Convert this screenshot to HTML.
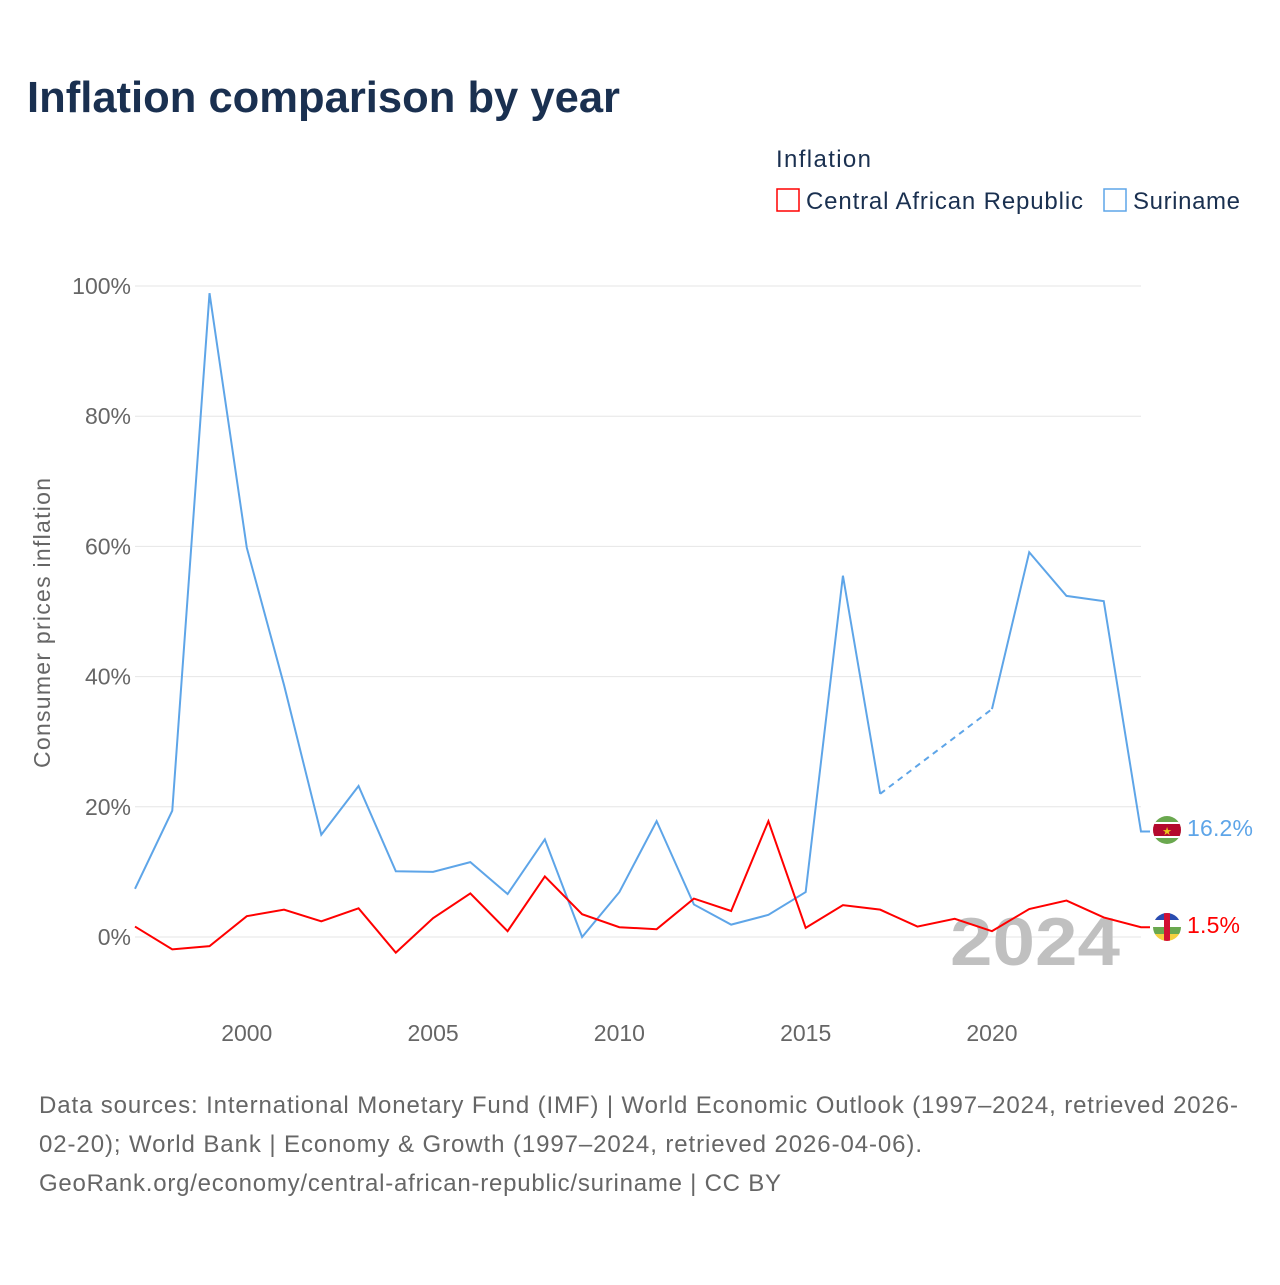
<!DOCTYPE html>
<html><head><meta charset="utf-8"><style>
body{margin:0;background:#fff;font-family:"Liberation Sans",sans-serif}
</style></head><body>
<svg width="1280" height="1280" xmlns="http://www.w3.org/2000/svg" font-family="Liberation Sans, sans-serif">
<text x="27" y="112" font-size="44" font-weight="bold" fill="#1a3050" textLength="593" lengthAdjust="spacingAndGlyphs">Inflation comparison by year</text>
<text x="776" y="167" font-size="24" fill="#1a3050" textLength="95">Inflation</text>
<g><rect x="777" y="189" width="22" height="22" fill="none" stroke="#f00" stroke-width="1.5"/><text x="806" y="209" font-size="24" fill="#1a3050" textLength="277">Central African Republic</text></g>
<g><rect x="1104" y="189" width="22" height="22" fill="none" stroke="#5ea5e8" stroke-width="1.5"/><text x="1133" y="209" font-size="24" fill="#1a3050" textLength="107">Suriname</text></g>
<g id="grid"></g>
<text transform="translate(50,623) rotate(-90)" text-anchor="middle" font-size="23" fill="#666" textLength="290">Consumer prices inflation</text>
<text x="950" y="965" font-size="68" font-weight="bold" fill="#c0c0c0" textLength="170" lengthAdjust="spacingAndGlyphs">2024</text>
<g id="series"></g>
<g>
<clipPath id="c1"><circle cx="1167" cy="830" r="14"/></clipPath>
<g clip-path="url(#c1)"><rect x="1150" y="815" width="34" height="30" fill="#6aa84f"/><rect x="1150" y="822" width="34" height="16" fill="#fff"/><rect x="1150" y="824" width="34" height="12" fill="#b40a2d"/><text x="1167" y="835" text-anchor="middle" font-size="11" fill="#ecc81d">★</text></g></g>
<g>
<clipPath id="c2"><circle cx="1167" cy="927" r="14"/></clipPath>
<g clip-path="url(#c2)"><rect x="1150" y="912" width="34" height="8" fill="#2a4cb0"/><rect x="1150" y="920" width="34" height="7" fill="#fff"/><rect x="1150" y="927" width="34" height="7" fill="#6aa84f"/><rect x="1150" y="934" width="34" height="8" fill="#f4d03f"/><rect x="1164" y="912" width="6" height="30" fill="#d21034"/></g></g>
<text x="1187" y="836" font-size="23" fill="#5ea5e8" textLength="66">16.2%</text>
<text x="1187" y="933" font-size="23" fill="#f00" textLength="53">1.5%</text>
<text font-size="24" fill="#666">
<tspan x="39" y="1113" textLength="1199">Data sources: International Monetary Fund (IMF) | World Economic Outlook (1997–2024, retrieved 2026-</tspan>
<tspan x="39" y="1152" textLength="883">02-20); World Bank | Economy &amp; Growth (1997–2024, retrieved 2026-04-06).</tspan>
<tspan x="39" y="1191" textLength="742">GeoRank.org/economy/central-african-republic/suriname | CC BY</tspan></text>
</svg>
<script>
const years=[1997,1998,1999,2000,2001,2002,2003,2004,2005,2006,2007,2008,2009,2010,2011,2012,2013,2014,2015,2016,2017,2018,2019,2020,2021,2022,2023,2024];
const suriname=[7.4,19.4,98.9,59.8,38.7,15.7,23.2,10.1,10.0,11.5,6.6,15.0,0.0,6.9,17.8,5.0,1.9,3.4,6.9,55.5,22.0,null,null,35.0,59.1,52.4,51.6,16.2];
const car=[1.6,-1.9,-1.4,3.2,4.2,2.4,4.4,-2.4,2.9,6.7,0.9,9.3,3.5,1.5,1.2,5.9,4.0,17.8,1.4,4.9,4.2,1.6,2.8,0.9,4.3,5.6,3.0,1.5];
const yTicks=[0,20,40,60,80,100];
const xTicks=[2000,2005,2010,2015,2020];
const NS='http://www.w3.org/2000/svg';
const x=v=>135+(v-1997)*(1141-135)/27;
const y=v=>937-v*6.51;
function mk(t,a,p){const e=document.createElementNS(NS,t);for(const k in a)e.setAttribute(k,a[k]);p.appendChild(e);return e;}
const g=document.getElementById('grid');
yTicks.forEach(t=>{const l=mk('line',{x1:135,x2:1141,y1:y(t),y2:y(t),stroke:'#e6e6e6','stroke-width':1},g);


const tx=mk('text',{x:131,y:y(t)+8,'text-anchor':'end','font-size':23,fill:'#666'},g);tx.textContent=t+'%';

});
xTicks.forEach(t=>{const tx=mk('text',{x:x(t),y:1041,'text-anchor':'middle','font-size':23,fill:'#666'},g);tx.textContent=t;

});
const s=document.getElementById('series');
function draw(vals,color,name){
 let segs=[],cur=[];
 vals.forEach((v,i)=>{if(v===null){if(cur.length)segs.push(cur);cur=[];}else cur.push([x(years[i]),y(v)]);});
 if(cur.length)segs.push(cur);
 const last=segs[segs.length-1];last.push([last[last.length-1][0]+9,last[last.length-1][1]]);
 segs.forEach(sg=>{const p=mk('polyline',{points:sg.map(q=>q.join(',')).join(' '),fill:'none',stroke:color,'stroke-width':2},s);
 
 });
 for(let k=0;k<segs.length-1;k++){const a=segs[k][segs[k].length-1],b=segs[k+1][0];
 const d=mk('line',{x1:a[0],y1:a[1],x2:b[0],y2:b[1],stroke:color,'stroke-width':2,'stroke-dasharray':'6,5'},s);
 
 }
}
draw(suriname,'#5ea5e8','suriname');
draw(car,'#f00','car');
</script>
</body></html>
